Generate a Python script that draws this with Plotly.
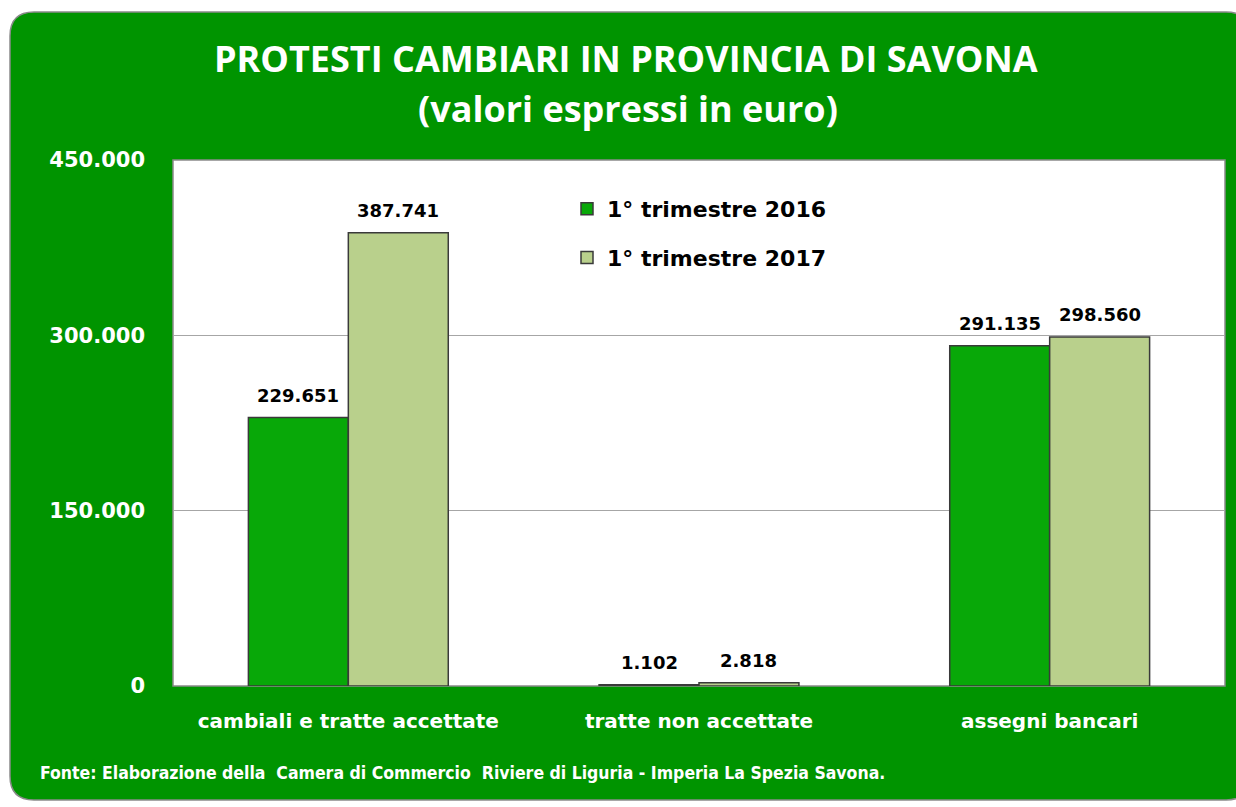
import plotly.graph_objects as go

# Protested amounts, province of Savona (euro)
categories = ["cambiali e tratte accettate", "tratte non accettate", "assegni bancari"]
series_names = ["1° trimestre 2016", "1° trimestre 2017"]
values_2016 = [229651, 1102, 291135]
values_2017 = [387741, 2818, 298560]
y_ticks = [0, 150000, 300000, 450000]

W, H = 1236, 807
GREEN = "#009400"

# plot area pixel bounds
L, R, T, B = 173, 1225, 160, 686
BARGAP = 0.43


def px(x):
    """Pixel x -> paper x (paper spans the plot area)."""
    return (x - L) / (R - L)


def py(y):
    """Pixel y (from top) -> paper y."""
    return (B - y) / (B - T)


def rounded_rect(x0, y0, x1, y1, r):
    """SVG path of a rounded rectangle given in pixel coordinates (paper-referenced)."""
    rx, ry = r / (R - L), r / (B - T)
    X0, X1 = px(x0), px(x1)
    Y0, Y1 = py(y0), py(y1)  # Y0 top, Y1 bottom
    return (
        f"M{X0 + rx},{Y0} L{X1 - rx},{Y0} Q{X1},{Y0} {X1},{Y0 - ry} "
        f"L{X1},{Y1 + ry} Q{X1},{Y1} {X1 - rx},{Y1} "
        f"L{X0 + rx},{Y1} Q{X0},{Y1} {X0},{Y1 + ry} "
        f"L{X0},{Y0 - ry} Q{X0},{Y0} {X0 + rx},{Y0} Z"
    )


fig = go.Figure()
fig.add_trace(go.Bar(
    name=series_names[0], x=categories, y=values_2016,
    marker=dict(color="#08a808", line=dict(color="#3a3a3a", width=1.5)),
    legendgroup="a", hoverinfo="y",
))
fig.add_trace(go.Bar(
    name=series_names[1], x=categories, y=values_2017,
    marker=dict(color="#b9d08c", line=dict(color="#3a3a3a", width=1.5)),
    legendgroup="b", hoverinfo="y",
))

# value labels above each bar, offset by half a bar width from the category centre
category_px = (R - L) / len(categories)
half_bar = category_px * (1 - BARGAP) / 4
annotations = []
for series, shift in ((values_2016, -half_bar), (values_2017, half_bar)):
    for cat, val in zip(categories, series):
        annotations.append(dict(
            x=cat, y=val, xref="x", yref="y", text=f"<b>{val:,}</b>".replace(",", "."),
            showarrow=False, xanchor="center", yanchor="bottom", xshift=shift, yshift=10,
            font=dict(family="DejaVu Sans", size=18, color="black"),
        ))

shapes = [
    # green rounded panel
    dict(type="path", xref="paper", yref="paper", layer="below",
         path=rounded_rect(10, 12, 1250, 800, 24),
         fillcolor=GREEN, line=dict(color="#8a8a8a", width=1.5)),
    # white plotting area
    dict(type="rect", xref="paper", yref="paper", layer="below",
         x0=0, x1=1, y0=0, y1=1,
         fillcolor="white", line=dict(color="#8a8a8a", width=1.5)),
]

annotations += [
    dict(text="<b>PROTESTI CAMBIARI IN PROVINCIA DI SAVONA</b>", x=px(626), y=py(58),
         xref="paper", yref="paper", showarrow=False, xanchor="center", yanchor="middle",
         font=dict(family="Open Sans", size=36, color="white")),
    dict(text="<b>(valori espressi in euro)</b>", x=px(628), y=py(108),
         xref="paper", yref="paper", showarrow=False, xanchor="center", yanchor="middle",
         font=dict(family="Open Sans", size=36, color="white")),
    dict(text="<b>Fonte: Elaborazione della&nbsp; Camera di Commercio&nbsp; Riviere di Liguria - Imperia La Spezia Savona.</b>",
         x=px(38), y=py(773), xref="paper", yref="paper", showarrow=False,
         xanchor="left", yanchor="middle",
         font=dict(family="DejaVu Sans Condensed, Liberation Sans", size=17.5, color="white")),
]

fig.update_layout(
    width=W, height=H,
    margin=dict(l=L, r=W - R, t=T, b=H - B, pad=0),
    paper_bgcolor="white", plot_bgcolor="rgba(0,0,0,0)",
    separators=",.",
    barmode="group", bargap=BARGAP, bargroupgap=0,
    shapes=shapes, annotations=annotations,
    showlegend=True,
    legend=dict(x=px(567), y=py(188), xref="paper", yref="paper",
                xanchor="left", yanchor="top", bgcolor="rgba(0,0,0,0)",
                font=dict(family="DejaVu Sans", size=22, color="black", weight="bold"),
                tracegroupgap=17, traceorder="grouped"),
    xaxis=dict(showgrid=False, showline=False, zeroline=False,
               ticks="", ticklabelstandoff=21,
               tickfont=dict(family="DejaVu Sans", size=20, color="white", weight="bold")),
    yaxis=dict(range=[0, 450000], tickvals=y_ticks, tickformat=",.0f",
               showgrid=True, gridcolor="#a6a6a6", gridwidth=1.2,
               zeroline=False, showline=False, ticks="", ticklabelstandoff=27,
               tickfont=dict(family="DejaVu Sans", size=21, color="white", weight="bold")),
)

fig.write_html("out.html")
